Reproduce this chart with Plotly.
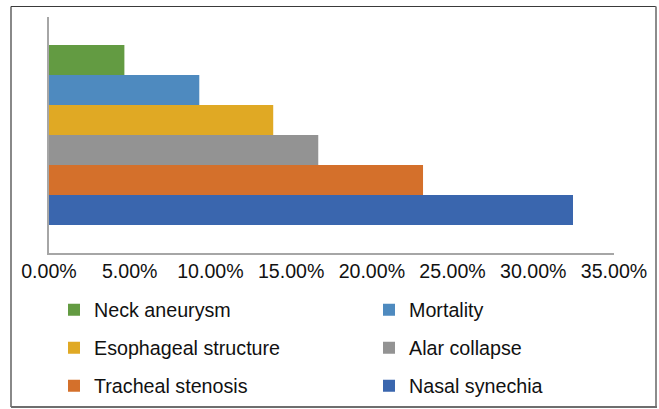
import plotly.graph_objects as go

# Data (fractions)
categories = ["Nasal synechia", "Tracheal stenosis", "Alar collapse",
              "Esophageal structure", "Mortality", "Neck aneurysm"]
values = [0.3246, 0.2317, 0.1668, 0.1389, 0.0931, 0.0467]
colors = ["#3A66AE", "#D4702B", "#939393", "#E0A924", "#4E8ABF", "#639B42"]
# legend grid slot for each entry: (column, row)
legend_slots = {"Neck aneurysm": (0, 0), "Mortality": (1, 0),
                "Esophageal structure": (0, 1), "Alar collapse": (1, 1),
                "Tracheal stenosis": (0, 2), "Nasal synechia": (1, 2)}
tick_vals = [0, 0.05, 0.10, 0.15, 0.20, 0.25, 0.30, 0.35]

FONT = "Liberation Sans, Arial, sans-serif"
W, H = 659, 409
L, R, T, B = 49, 45, 17, 156
pw, ph = W - L - R, H - T - B

def px_x(x):
    return (x - L) / pw

def px_y(y):
    return (H - B - y) / ph

col_px = [54, 369]
row_px = [310, 348, 386]

fig = go.Figure()
legend_layouts = {}
for i, (name, val, col) in enumerate(zip(categories, values, colors)):
    lname = "legend" if i == 0 else f"legend{i + 1}"
    c, r = legend_slots[name]
    legend_layouts[lname] = dict(
        orientation="v", font=dict(family=FONT, size=19.7, color="#111111"),
        bgcolor="rgba(0,0,0,0)", xanchor="left", yanchor="middle",
        x=px_x(col_px[c]), y=px_y(row_px[r]),
        itemclick=False, itemdoubleclick=False)
    fig.add_trace(go.Bar(
        x=[val], y=["c"], orientation="h", name=name,
        marker=dict(color=col, line=dict(width=0)),
        legend=lname, hoverinfo="skip",
    ))

fig.update_layout(
    width=W, height=H,
    margin=dict(l=L, r=R, t=T, b=B, autoexpand=False),
    paper_bgcolor="white", plot_bgcolor="white",
    barmode="group", bargap=0.2373, bargroupgap=0,
    showlegend=True,
    xaxis=dict(range=[0, 0.35], tickvals=tick_vals, tickformat=".2%",
               showgrid=False, zeroline=False, showline=True,
               linecolor="#A6A6A6", linewidth=1.5, ticks="",
               tickfont=dict(family=FONT, size=19.6, color="#111111"),
               fixedrange=True),
    yaxis=dict(showticklabels=False, showgrid=False, zeroline=False,
               showline=True, linecolor="#A6A6A6", linewidth=1.5, ticks="",
               fixedrange=True),
    shapes=[
        dict(type="line", xref="paper", yref="paper",
             x0=px_x(11), x1=px_x(656), y0=px_y(6.5), y1=px_y(6.5),
             line=dict(color="#3A3A3A", width=1.2)),
        dict(type="line", xref="paper", yref="paper",
             x0=px_x(11), x1=px_x(11), y0=px_y(6.5), y1=px_y(407),
             line=dict(color="#3A3A3A", width=1.2)),
        dict(type="line", xref="paper", yref="paper",
             x0=px_x(656), x1=px_x(656), y0=px_y(6.5), y1=px_y(407.5),
             line=dict(color="#8C8C8C", width=2)),
        dict(type="line", xref="paper", yref="paper",
             x0=px_x(11), x1=px_x(657), y0=px_y(407), y1=px_y(407),
             line=dict(color="#6E6E6E", width=2)),
    ],
)
fig.update_layout(**legend_layouts)

fig.write_html("out.html", config={"displayModeBar": False},
               post_script="document.body.style.margin='0';"
                           "document.body.style.overflow='hidden';")
